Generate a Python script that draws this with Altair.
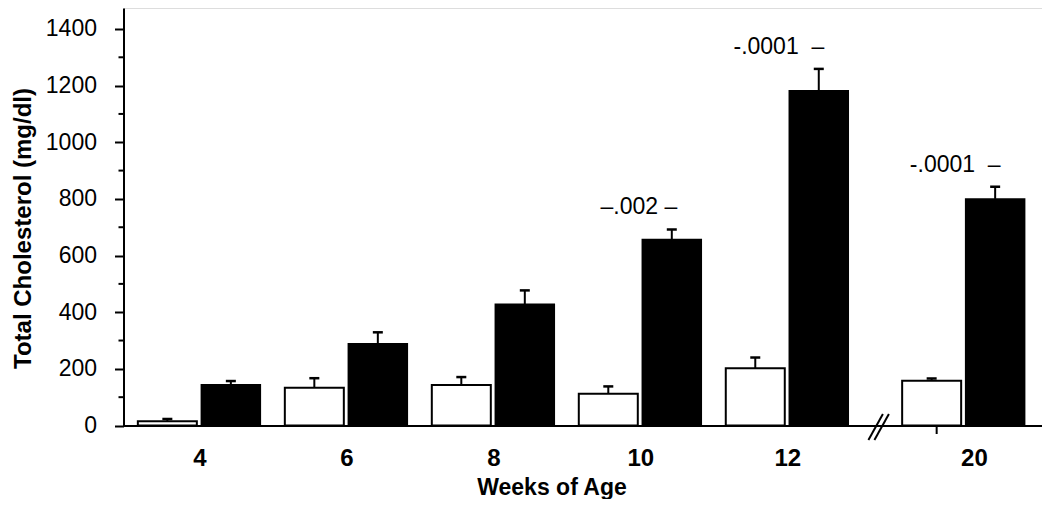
import altair as alt
import pandas as pd

# ---- data ----
weeks = ["4", "6", "8", "10", "12", "20"]
slots = [1, 2, 3, 4, 5, 6.2]          # category slots (gap before week 20 = axis break)
label_slots = [1, 2, 3, 4, 5, 6.27]
white_mean = [15, 133, 143, 112, 202, 158]
white_err = [8, 34, 28, 26, 38, 8]
black_mean = [144, 289, 428, 657, 1182, 800]
black_err = [13, 40, 49, 35, 77, 43]
p_weeks = ["10", "12", "20"]
p_text = ["\u2013.002 \u2013", "-.0001\u00a0\u00a0\u2013", "-.0001\u00a0\u00a0\u2013"]
y_major = list(range(0, 1401, 200))
y_minor = list(range(100, 1301, 200))
break_slot = [5.62]
low_whisker_week = ["20"]
low_whisker = [30]

FONT = "Liberation Sans"

df = pd.DataFrame({
    "week": weeks, "slot": slots,
    "white": white_mean, "white_err": white_err,
    "black": black_mean, "black_err": black_err,
})
df["white_top"] = df["white"] + df["white_err"]
df["black_top"] = df["black"] + df["black_err"]

ann = pd.DataFrame({"week": p_weeks, "text": p_text}).merge(df, on="week")
low = pd.DataFrame({"week": low_whisker_week, "low": low_whisker}).merge(df, on="week")
low["low_end"] = -low["low"]

xs = alt.Scale(domain=[0.518, 6.699], nice=False, zero=False)
ys = alt.Scale(domain=[0, 1474], nice=False, zero=True)

# label expression for the x axis from the lists
expr = ""
for i in range(len(weeks) - 1):
    mid = (label_slots[i] + label_slots[i + 1]) / 2
    expr += f"datum.value < {mid} ? '{weeks[i]}' : "
expr += f"'{weeks[-1]}'"

x_axis = alt.Axis(
    values=label_slots, labelExpr=expr, ticks=False, grid=False,
    domain=True, domainColor="black", domainWidth=2,
    labelFont=FONT, labelFontSize=24, labelFontWeight="bold", labelColor="black",
    labelPadding=21, labelFlush=False, labelOverlap=False,
    title="Weeks of Age", titleFont=FONT, titleFontSize=23, titleFontWeight="bold",
    titleColor="black", titleX=428, titleY=69, titleBaseline="alphabetic",
    titleAnchor="middle", titleAlign="center",
)
y_axis = alt.Axis(
    values=y_major, format="d", grid=False, domain=True, domainColor="black",
    domainWidth=2, ticks=True, tickSize=9, tickWidth=2, tickColor="black",
    labelFont=FONT, labelFontSize=23, labelColor="black", labelPadding=18,
    title="Total Cholesterol (mg/dl)", titleFont=FONT, titleFontSize=24,
    titleFontWeight="bold", titleColor="black", titleX=-88, titleY=220,
    titleAngle=-90, titleBaseline="bottom", titleAlign="center",
)

base = alt.Chart(df)

white_bars = base.mark_bar(width=59, xOffset=-32, fill="white", stroke="black",
                           strokeWidth=2).encode(
    x=alt.X("slot:Q", scale=xs, axis=x_axis),
    y=alt.Y("white:Q", scale=ys, axis=y_axis),
    y2=alt.datum(0),
)
black_bars = base.mark_bar(width=59, xOffset=31.5, fill="black", stroke="black",
                           strokeWidth=1.5).encode(
    x=alt.X("slot:Q", scale=xs),
    y=alt.Y("black:Q", scale=ys),
    y2=alt.datum(0),
)

white_err_line = base.mark_rule(xOffset=-32, x2Offset=-32, color="black",
                                strokeWidth=2).encode(
    x=alt.X("slot:Q", scale=xs), x2="slot:Q",
    y=alt.Y("white:Q", scale=ys), y2="white_top:Q",
)
white_cap = base.mark_rule(xOffset=-37, x2Offset=-27, color="black",
                           strokeWidth=2.5).encode(
    x=alt.X("slot:Q", scale=xs), x2="slot:Q",
    y=alt.Y("white_top:Q", scale=ys),
)
black_err_line = base.mark_rule(xOffset=31.5, x2Offset=31.5, color="black",
                                strokeWidth=2).encode(
    x=alt.X("slot:Q", scale=xs), x2="slot:Q",
    y=alt.Y("black:Q", scale=ys), y2="black_top:Q",
)
black_cap = base.mark_rule(xOffset=26.5, x2Offset=36.5, color="black",
                           strokeWidth=2.5).encode(
    x=alt.X("slot:Q", scale=xs), x2="slot:Q",
    y=alt.Y("black_top:Q", scale=ys),
)

low_line = alt.Chart(low).mark_rule(xOffset=-27, x2Offset=-27, color="black",
                                    strokeWidth=2).encode(
    x=alt.X("slot:Q", scale=xs), x2="slot:Q",
    y=alt.Y("low_end:Q", scale=ys), y2=alt.datum(0),
)

minor = alt.Chart(pd.DataFrame({"v": y_minor})).mark_rule(
    color="black", strokeWidth=2).encode(
    x=alt.value(-5), x2=alt.value(0),
    y=alt.Y("v:Q", scale=ys),
)

brk_df = pd.DataFrame({"b": break_slot})
brk1 = alt.Chart(brk_df).mark_rule(color="black", strokeWidth=2,
                                   xOffset=-10, x2Offset=4.5,
                                   yOffset=14.5, y2Offset=-11.5).encode(
    x=alt.X("b:Q", scale=xs), x2="b:Q",
    y=alt.Y(datum=0, scale=ys), y2=alt.datum(0),
)
brk2 = alt.Chart(brk_df).mark_rule(color="black", strokeWidth=2,
                                   xOffset=-4, x2Offset=10.5,
                                   yOffset=14.5, y2Offset=-11.5).encode(
    x=alt.X("b:Q", scale=xs), x2="b:Q",
    y=alt.Y(datum=0, scale=ys), y2=alt.datum(0),
)

labels = alt.Chart(ann).mark_text(align="right", baseline="middle", dx=37, dy=-22,
                                  font=FONT, fontSize=23, color="black").encode(
    x=alt.X("slot:Q", scale=xs),
    y=alt.Y("black_top:Q", scale=ys),
    text="text:N",
)

chart = alt.layer(
    white_bars, black_bars, white_err_line, white_cap, black_err_line, black_cap,
    low_line, minor, brk1, brk2, labels,
).properties(
    width=918.5, height=417.5,
    autosize=alt.AutoSizeParams(type="none"),
    padding={"left": 115.5, "top": 0, "right": 0, "bottom": 73},
).configure_view(stroke=None).configure(background="white")

chart.save("out.html", embed_options={"renderer": "svg", "actions": False})
